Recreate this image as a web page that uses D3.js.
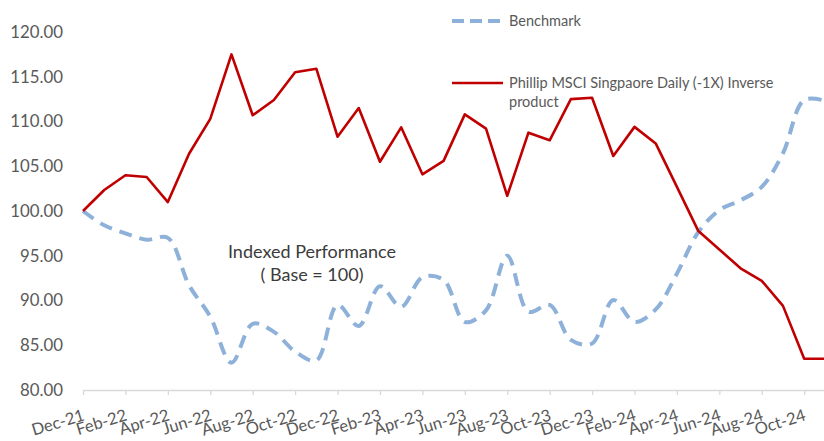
<!DOCTYPE html>
<html>
<head>
<meta charset="utf-8">
<script src="https://cdn.jsdelivr.net/npm/d3@7"></script>
<style>
  html, body { margin: 0; padding: 0; background: #fff; }
  svg { display: block; font-family: Lato, "Open Sans", sans-serif; }
</style>
</head>
<body>
<svg id="chart" width="824" height="441"></svg>
<script>
const months = ["Dec-21","Jan-22","Feb-22","Mar-22","Apr-22","May-22","Jun-22","Jul-22","Aug-22","Sep-22","Oct-22","Nov-22",
  "Dec-22","Jan-23","Feb-23","Mar-23","Apr-23","May-23","Jun-23","Jul-23","Aug-23","Sep-23","Oct-23","Nov-23",
  "Dec-23","Jan-24","Feb-24","Mar-24","Apr-24","May-24","Jun-24","Jul-24","Aug-24","Sep-24","Oct-24","Nov-24"];
const benchmark = [100.0, 98.4, 97.5, 96.8, 97.0, 91.7, 88.2, 83.05, 87.4, 86.5, 84.3, 83.3,
  89.5, 87.15, 91.6, 89.3, 92.6, 92.3, 87.6, 88.9, 95.0, 88.75, 89.5, 85.6,
  85.2, 90.05, 87.6, 89.0, 93.0, 97.6, 100.1, 101.2, 102.7, 106.45, 112.4, 112.3];
const product = [100.0, 102.35, 104.0, 103.8, 101.0, 106.4, 110.3, 117.5, 110.7, 112.4, 115.5, 115.9,
  108.3, 111.5, 105.5, 109.35, 104.1, 105.6, 110.8, 109.2, 101.7, 108.75, 107.9, 112.5,
  112.66, 106.15, 109.4, 107.55, 102.7, 97.8, 95.7, 93.6, 92.2, 89.4, 83.5, 83.5];
const yTicks = [80, 85, 90, 95, 100, 105, 110, 115, 120];
const seriesNames = ["Benchmark", "Phillip MSCI Singpaore Daily (-1X) Inverse", "product"];
const noteLines = ["Indexed Performance", "( Base = 100)"];

const svg = d3.select("#chart");
const x = d3.scalePoint().domain(months).range([83, 825.4]);
const y = d3.scaleLinear().domain([80, 120]).range([390, 32]);

// Y axis labels (no axis line)
const yAxis = d3.axisLeft(y).tickValues(yTicks).tickFormat(d3.format(".2f")).tickSize(0).tickPadding(0);
const gy = svg.append("g").attr("transform", "translate(63,0)").call(yAxis);
gy.select(".domain").remove();
gy.selectAll("text").attr("fill", "#595959").style("font-size", "16.8px").style("font-family", "Lato, sans-serif");

// X axis
const xAxis = d3.axisBottom(x).tickValues(months.filter((d, i) => i % 2 === 0)).tickSizeInner(5).tickSizeOuter(0);
const gx = svg.append("g").attr("transform", "translate(0,390)").call(xAxis);
gx.select(".domain").attr("stroke", "#d9d9d9").attr("stroke-width", 1.3);
gx.selectAll(".tick line").attr("stroke", "#d9d9d9").attr("stroke-width", 1.3);
gx.selectAll(".tick text")
  .attr("fill", "#595959")
  .style("font-size", "16.5px")
  .style("font-family", "Lato, sans-serif")
  .attr("text-anchor", "end")
  .attr("y", 0).attr("dy", 0)
  .attr("transform", "translate(2,30) rotate(-17)");

// Lines
const benchLine = d3.line().x((d, i) => x(months[i])).y(d => y(d)).curve(d3.curveCatmullRom.alpha(0.5));
const prodLine = d3.line().x((d, i) => x(months[i])).y(d => y(d));

svg.append("path").datum(benchmark).attr("d", benchLine)
  .attr("fill", "none").attr("stroke", "#8EB1DA").attr("stroke-width", 4)
  .attr("stroke-dasharray", "13,8");
svg.append("path").datum(product).attr("d", prodLine)
  .attr("fill", "none").attr("stroke", "#C00000").attr("stroke-width", 2.6)
  .attr("stroke-linejoin", "round");

// Legend
const lg = svg.append("g");
lg.append("line").attr("x1", 452).attr("x2", 500).attr("y1", 21).attr("y2", 21)
  .attr("stroke", "#8EB1DA").attr("stroke-width", 4).attr("stroke-dasharray", "12,6");
lg.append("text").attr("x", 509).attr("y", 26).text(seriesNames[0])
  .attr("fill", "#595959").style("font-size", "14.5px");
lg.append("line").attr("x1", 452).attr("x2", 503).attr("y1", 83).attr("y2", 83)
  .attr("stroke", "#C00000").attr("stroke-width", 2.6);
lg.append("text").attr("x", 509).attr("y", 88).text(seriesNames[1])
  .attr("fill", "#595959").style("font-size", "14.5px");
lg.append("text").attr("x", 509).attr("y", 107).text(seriesNames[2])
  .attr("fill", "#595959").style("font-size", "14.5px");

// Note
svg.selectAll("text.note").data(noteLines).enter().append("text")
  .attr("class", "note")
  .attr("x", 312).attr("y", (d, i) => 258 + i * 23)
  .attr("text-anchor", "middle")
  .attr("fill", "#3b3b3b").style("font-size", "18px")
  .text(d => d);
</script>
</body>
</html>
